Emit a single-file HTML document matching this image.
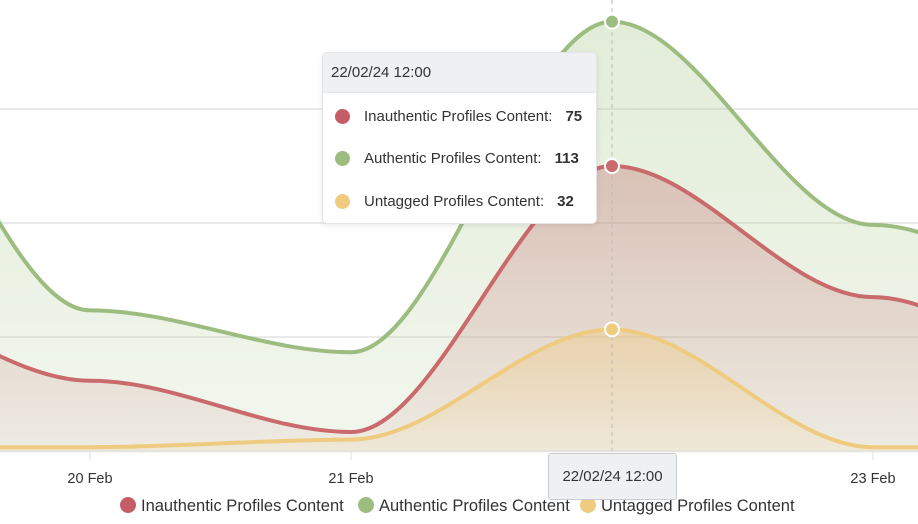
<!DOCTYPE html>
<html><head><meta charset="utf-8"><style>
body{margin:0;width:918px;height:524px;overflow:hidden;background:#fff;font-family:"Liberation Sans",sans-serif;}
#wrap{position:relative;width:918px;height:524px;}
svg{position:absolute;left:0;top:0;}
.tt{position:absolute;left:322px;top:52px;width:275px;height:172px;background:#fff;border:1px solid #e3e5e8;border-radius:5px;box-shadow:0 2px 6px rgba(0,0,0,0.08);box-sizing:border-box;overflow:hidden;color:#333;font-size:15px;}
.tt .hd{height:39px;background:#eef0f2;border-bottom:1px solid #e3e5e8;line-height:39px;padding-left:8px;color:#333;}
.tt .row{position:absolute;left:12px;height:20px;line-height:20px;white-space:nowrap;}
.tt .dot{display:inline-block;width:15px;height:15px;border-radius:50%;vertical-align:-3px;margin-right:14px;}
.tt b{margin-left:13px;}
.xt{position:absolute;left:548px;top:453px;width:129px;height:47px;background:#eef0f2;border:1px solid #c9ccd0;border-radius:3px;box-sizing:border-box;line-height:45px;text-align:center;font-size:15px;color:#333;}
</style></head><body>
<div id="wrap">
<svg id="chart" width="918" height="524"></svg>
<div class="tt">
 <div class="hd">22/02/24 12:00</div>
 <div class="row" style="top:54px"><span class="dot" style="background:#c45d65"></span>Inauthentic Profiles Content:<b>75</b></div>
 <div class="row" style="top:96px"><span class="dot" style="background:#9dbd80"></span>Authentic Profiles Content:<b>113</b></div>
 <div class="row" style="top:139px"><span class="dot" style="background:#efcb80"></span>Untagged Profiles Content:<b>32</b></div>
</div>
<div class="xt">22/02/24 12:00</div>
</div>
<script>
const xIdx=[0,1,2,3,4,5];
const inauthentic=[42,18.5,5,75,40.5,14];
const authentic=[120,37,26,113,59.5,36];
const untagged=[1,1,3,32,1,1];
const gridVals=[30,60,90];
const tickLabels=["20 Feb","21 Feb","22 Feb","23 Feb"];
const tickIdx=[1,2,3,4];
const hoverIdx=3;

const NS="http://www.w3.org/2000/svg";
const svg=document.getElementById('chart');
const x=i=>90+(i-1)*261;
const y=v=>451-v*3.8;
function el(t,a){const e=document.createElementNS(NS,t);for(const k in a)e.setAttribute(k,a[k]);return e;}
function flat(px,py){
 let s="M"+px[0]+","+py[0];
 for(let i=0;i<px.length-1;i++){const h=(px[i+1]-px[i])/3;s+=" C"+(px[i]+h)+","+py[i]+" "+(px[i+1]-h)+","+py[i+1]+" "+px[i+1]+","+py[i+1];}
 return s;
}
const defs=el('defs',{});svg.appendChild(defs);
gridVals.forEach(v=>{const g=el('line',{x1:0,x2:918,y1:y(v),y2:y(v),stroke:'#e4e4e4','stroke-width':1.5});


svg.appendChild(g);});
const base=el('line',{x1:0,x2:918,y1:451.5,y2:451.5,stroke:'#e4e4e4','stroke-width':1.5});


svg.appendChild(base);
tickIdx.forEach((t,k)=>{
 const tk=el('line',{x1:x(t),x2:x(t),y1:452,y2:460,stroke:'#ddd'});
 
 
 svg.appendChild(tk);
 if(t===hoverIdx)return;
 const tx=el('text',{x:x(t),y:483,'text-anchor':'middle','font-size':14.5,fill:'#333','font-family':'Liberation Sans, sans-serif'});
 tx.textContent=tickLabels[k];
 
 
 svg.appendChild(tx);
});
const series=[
 {name:'authentic',data:authentic,col:'#9dbd80',fill:'#a9c98c',op:[0.35,0.15]},
 {name:'inauthentic',data:inauthentic,col:'#c96a6d',fill:'#c06a6a',op:[0.35,0.08]},
 {name:'untagged',data:untagged,col:'#efcb80',fill:'#f0c97a',op:[0.4,0.1]}
];
series.forEach(s=>{
 const gr=el('linearGradient',{id:'g'+s.name,x1:0,y1:0,x2:0,y2:1});
 gr.appendChild(el('stop',{offset:0,'stop-color':s.fill,'stop-opacity':s.op[0]}));
 gr.appendChild(el('stop',{offset:1,'stop-color':s.fill,'stop-opacity':s.op[1]}));
 defs.appendChild(gr);
 const px=xIdx.map(x),py=s.data.map(y);
 const p=flat(px,py);
 const a=el('path',{d:p+" L"+px[px.length-1]+",451 L"+px[0]+",451 Z",fill:'url(#g'+s.name+')'});
 
 
 svg.appendChild(a);
 const l=el('path',{d:p,fill:'none',stroke:s.col,'stroke-width':4});
 
 
 svg.appendChild(l);
});
const ch=el('line',{x1:x(hoverIdx),x2:x(hoverIdx),y1:0,y2:451,stroke:'#bbb','stroke-dasharray':'4,4'});


svg.appendChild(ch);
series.forEach(s=>{
 const c=el('circle',{cx:x(hoverIdx),cy:y(s.data[hoverIdx]),r:7,fill:s.col,stroke:'#fff','stroke-width':2});
 
 
 svg.appendChild(c);
});
const leg=[['Inauthentic Profiles Content','#c45d65',128],['Authentic Profiles Content','#9dbd80',366],['Untagged Profiles Content','#efcb80',588]];
leg.forEach(([t,c,lx])=>{
 const g=el('g',{});
 
 
 g.appendChild(el('circle',{cx:lx,cy:505,r:8,fill:c}));
 const tx=el('text',{x:lx+13,y:511,'font-size':16.5,fill:'#333','font-family':'Liberation Sans, sans-serif'});
 tx.textContent=t;g.appendChild(tx);svg.appendChild(g);
});
</script>
</body></html>
